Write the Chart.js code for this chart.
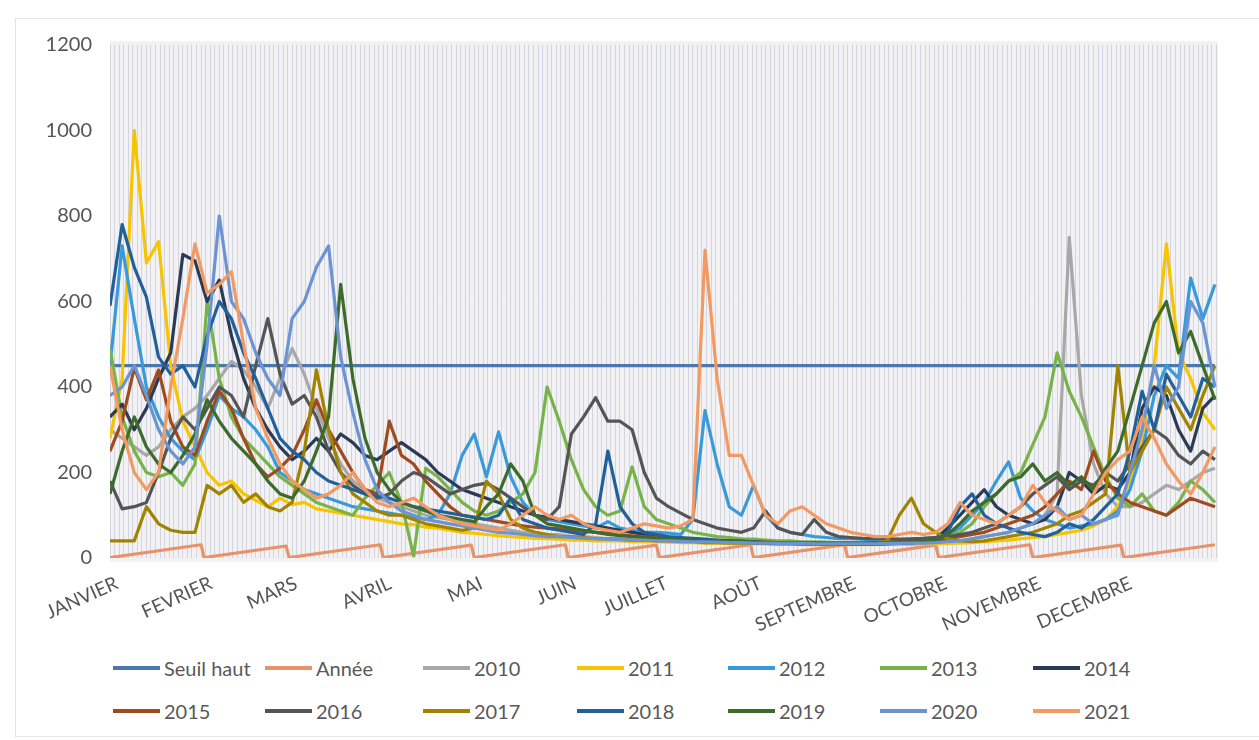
<!DOCTYPE html>
<html><head><meta charset="utf-8">
<script src="https://cdn.jsdelivr.net/npm/chart.js@4.4.0/dist/chart.umd.min.js"></script>
<style>
html,body{margin:0;padding:0;background:#fff;width:1259px;height:740px;overflow:hidden;font-family:Lato,"Open Sans",sans-serif;}
#frame{position:absolute;left:15px;top:18px;width:1250px;height:717px;border:1px solid #e4e4e4;}
#c{position:absolute;left:0;top:0;}
#legend{position:absolute;left:0;top:645px;width:1259px;height:92px;}
.item{position:absolute;display:flex;align-items:center;font-size:20px;color:#595959;white-space:nowrap;height:24px;}
.sw{display:inline-block;width:47px;height:4px;margin-right:4px;}
</style></head><body>
<div id="frame"></div>
<canvas id="c" width="1259" height="640"></canvas>
<div id="legend"></div>
<script>
// ---- data ----
const monthLabels = ['JANVIER','FEVRIER','MARS','AVRIL','MAI','JUIN','JUILLET','AOÛT','SEPTEMBRE','OCTOBRE','NOVEMBRE','DECEMBRE'];
const monthStarts = [0,31,59,90,120,151,181,212,243,273,304,334];
const yTicks = [0,200,400,600,800,1000,1200];

const days = [0,4,8,12,16,20,24,28,32,36,40,44,48,52,56,60,64,68,72,76,80,84,88,92,96,100,104,108,112,116,120,124,128,132,136,140,144,148,152,156,160,164,168,172,176,180,184,188,192,196,200,204,208,212,216,220,224,228,232,236,240,244,248,252,256,260,264,268,272,276,280,284,288,292,296,300,304,308,312,316,320,324,328,332,336,340,344,348,352,356,360,364];

const seuilDays = [0,364];
const seuilValues = [450,450];

const anneeDays = [0,30,31,58,59,89,90,119,120,150,151,180,181,211,212,242,243,272,273,303,304,333,334,364];
const anneeValues = [1,31,1,28,1,31,1,30,1,31,1,30,1,31,1,31,1,30,1,31,1,30,1,31];

const y2010 = [300,280,260,240,260,300,330,350, 380,420,460,440,400,350,420, 490,430,350,280,220,180,160,140, 130,120,110,100,95,90,85, 80,75,70,65,60,60,55,55, 50,50,48,45,45,42,40,40, 40,38,38,36,36,35,35, 34,34,33,33,32,32,32,32, 32,32,32,33,33,34,35, 36,38,40,45,50,55,60,70, 80,100,150,750,380,220,150,120, 120,130,150,170,160,180,200,210];
const y2011 = [280,420,1000,690,740,450,320,260, 200,170,180,150,135,120,140, 125,130,115,110,105,100,95,90, 85,80,78,72,70,65,60, 58,55,52,50,48,46,45,44, 42,42,40,40,40,38,38,38, 37,36,36,35,35,34,34, 33,33,32,32,32,31,31,31, 31,31,31,32,32,32,33, 33,34,35,36,38,40,42,45, 48,50,55,60,65,75,90,120, 180,280,450,735,480,420,340,300];
const y2012 = [450,730,560,400,330,280,250,230, 300,380,350,330,300,260,200, 180,160,150,140,130,120,115,110, 105,100,95,90,100,150,240, 290,190,295,190,130,100,90,85, 80,75,70,85,70,65,60,60, 58,55,90,345,220,120,100, 170,100,70,60,55,50,48,45, 45,44,42,42,42,44,46, 48,55,70,100,130,180,225,140, 110,90,80,70,75,80,90,110, 160,250,380,450,420,655,560,640];
const y2013 = [490,330,250,200,190,200,170,220, 600,420,330,280,250,220,190, 170,150,130,120,110,100,140,170, 200,130,5,210,190,160,130, 110,100,110,130,150,200,400,320, 230,160,120,100,110,213,120,90, 80,70,60,55,50,48,45, 44,42,40,40,38,38,37,36, 36,36,36,38,40,40,42, 45,50,60,80,120,150,180,200, 265,330,480,390,330,260,190,140, 120,150,110,100,130,180,160,130];
const y2014 = [330,360,300,350,420,480,710,695, 600,650,520,420,350,300,260, 230,250,280,250,290,270,240,230, 250,270,250,230,200,180,160, 150,140,130,120,110,100,95,90, 85,80,75,70,65,60,55,50, 48,46,44,42,40,40,38, 38,36,36,35,35,34,34,34, 34,34,35,35,36,38,40, 45,70,100,130,160,120,100,90, 80,90,120,200,180,150,170,160, 200,350,400,380,300,250,350,380];
const y2015 = [250,320,445,370,440,320,260,240, 320,390,350,280,220,190,210, 240,300,370,300,250,200,160,150, 320,240,220,180,150,120,100, 95,90,85,80,75,72,70,68, 65,62,60,58,55,52,50,48, 46,45,44,42,40,40,38, 38,37,36,36,35,35,34,34, 34,34,35,36,38,40,42, 40,45,50,55,60,70,80,90, 100,120,150,180,160,250,180,150, 130,120,110,100,120,140,130,120];
const y2016 = [180,115,120,130,200,280,330,300, 350,400,380,330,450,560,430, 360,380,330,250,200,170,150,140, 150,180,200,190,170,150,160, 170,175,160,140,120,100,90,120, 290,330,375,320,320,300,200,140, 120,105,90,80,70,65,60, 70,110,70,60,55,90,60,50, 48,46,45,45,44,45,46, 48,50,55,60,70,80,100,120, 150,170,190,160,180,170,200,180, 220,260,300,280,240,220,250,230];
const y2017 = [40,40,40,120,80,65,60,60, 170,150,170,130,150,120,110, 130,250,440,300,200,150,130,110, 100,100,90,80,75,70,65, 70,180,150,90,70,60,55,50, 50,48,45,45,44,42,42,40, 40,38,38,36,36,35,35, 34,34,33,33,33,32,32,32, 32,32,33,40,100,140,80, 60,45,40,38,40,45,50,55, 60,70,80,100,110,130,150,450, 200,250,300,400,350,300,380,450];
const y2018 = [590,780,680,610,470,430,450,400, 520,600,560,480,420,350,280, 250,230,200,180,170,160,150,145, 140,130,120,115,110,105,100, 95,90,100,140,90,80,70,65, 60,55,80,250,120,80,60,55, 50,48,46,44,42,40,40, 38,36,35,34,33,33,32,32, 32,32,32,33,34,35,38, 40,60,120,150,100,80,70,60, 55,50,60,80,70,90,120,150, 250,390,300,430,380,330,420,400];
const y2019 = [150,250,330,260,220,200,240,290, 370,320,280,250,220,180,150, 140,180,250,330,640,420,280,200, 160,130,120,110,100,95,90, 85,120,150,220,180,100,80,75, 70,65,60,55,52,50,48,46, 45,44,42,40,40,38,38, 37,36,35,35,34,34,34,34, 34,34,35,36,37,38,40, 45,55,80,110,130,150,180,190, 220,180,200,170,190,160,210,250, 350,450,550,600,480,530,450,370];
const y2020 = [380,400,450,380,300,250,220,260, 500,800,600,560,480,420,380, 560,600,680,730,470,340,230,160, 130,110,100,90,85,80,75, 70,65,60,58,55,52,50,50, 48,46,45,44,43,42,42,40, 40,39,38,38,37,36,36, 35,35,34,34,34,33,33,33, 33,33,33,34,34,35,35, 36,38,40,45,50,55,60,70, 80,100,120,90,100,80,90,100, 200,300,450,350,400,600,550,400];
const y2021 = [450,300,200,160,200,400,560,735, 620,640,670,500,350,280,220, 180,160,140,150,170,200,160,130, 120,130,140,120,100,90,80, 75,70,65,80,100,120,100,90, 100,80,70,65,60,70,80,75, 70,75,90,720,420,240,240, 170,100,80,110,120,100,80,70, 60,55,50,50,55,60,55, 60,80,130,100,90,80,100,120, 170,130,110,90,100,150,200,230, 250,330,280,220,180,150,200,260];

const yearNames = ['2010','2011','2012','2013','2014','2015','2016','2017','2018','2019','2020','2021'];
const yearValues = [y2010,y2011,y2012,y2013,y2014,y2015,y2016,y2017,y2018,y2019,y2020,y2021];

// ---- styles ----
const yearColors = ['#A8A8A8','#F7C400','#3A9AD9','#77B348','#2B3A55','#9E4B1E','#555555','#A08400','#22609A','#3D6B2C','#6C93D2','#F29A62'];
const seuilColor = '#4A78AD';
const anneeColor = '#E8926A';
const FONT = 'Lato, "Open Sans", sans-serif';

const datasets = [];
datasets.push({label:'Seuil haut', data: seuilDays.map((d,i)=>({x:d,y:seuilValues[i]})), borderColor:seuilColor});
datasets.push({label:'Année', data: anneeDays.map((d,i)=>({x:d,y:anneeValues[i]})), borderColor:anneeColor});
yearNames.forEach((n,k)=>{
  datasets.push({label:n, data: days.map((d,i)=>({x:d,y:yearValues[k][i]})), borderColor:yearColors[k]});
});
const N = datasets.length;
datasets.forEach((ds,i)=>{ ds.borderWidth=3.2; ds.pointRadius=0; ds.fill=false; ds.tension=0; ds.order=N-i; ds.borderJoinStyle='round'; ds.xAxisID='x'; ds.yAxisID='y'; });

const gridTicks = Array.from({length:244},(_,i)=>({value:i*1.5}));

const bgPlugin = {id:'bg', beforeDraw(chart){
  const {ctx, chartArea:a} = chart;
  ctx.save(); ctx.fillStyle='#F2F2F5'; ctx.fillRect(a.left, a.top-4, a.right-a.left, a.bottom-a.top+8); ctx.restore();
}};

new Chart(document.getElementById('c'), {
  type:'line',
  data:{datasets},
  plugins:[bgPlugin],
  options:{
    responsive:false, animation:false, events:[],
    layout:{padding:{left:0,right:41,top:45,bottom:0}},
    plugins:{legend:{display:false}, tooltip:{enabled:false}},
    scales:{
      xg:{type:'linear', min:0, max:365, position:'bottom', display:true,
        ticks:{display:false}, grid:{color:'rgba(200,200,212,0.7)', lineWidth:1, drawTicks:false}, border:{display:false},
        afterBuildTicks:(s)=>{s.ticks = gridTicks.slice();}, afterFit:(s)=>{s.height=0;}},
      x:{type:'linear', min:0, max:365, position:'bottom',
        grid:{display:false, drawTicks:false}, border:{display:false},
        ticks:{autoSkip:false, minRotation:24, maxRotation:24, color:'#555', padding:14, labelOffset:7, font:{family:FONT,size:19},
          callback:(v,i)=>monthLabels[i]},
        afterBuildTicks:(s)=>{s.ticks = monthStarts.map(v=>({value:v}));}, afterFit:(s)=>{s.height=82;}},
      y:{type:'linear', min:0, max:1200,
        grid:{display:false, drawTicks:false}, border:{display:false},
        ticks:{color:'#555', padding:18, font:{family:FONT,size:20}, callback:(v)=>String(v)},
        afterBuildTicks:(s)=>{s.ticks = yTicks.map(v=>({value:v}));}, afterFit:(s)=>{s.width=110;}}
    }
  }
});

// ---- legend ----
const legendCols = [113,265,423,577,728,880,1033];
const legendRows = [11,54];
const lg = document.getElementById('legend');
datasets.forEach((ds,i)=>{
  const r = i<7?0:1, c = i%7;
  const el = document.createElement('div');
  el.className='item';
  el.style.left = legendCols[c]+'px';
  el.style.top = legendRows[r]+'px';
  el.innerHTML = '<span class="sw" style="background:'+ds.borderColor+'"></span><span>'+ds.label+'</span>';
  lg.appendChild(el);
});
</script>
</body></html>
